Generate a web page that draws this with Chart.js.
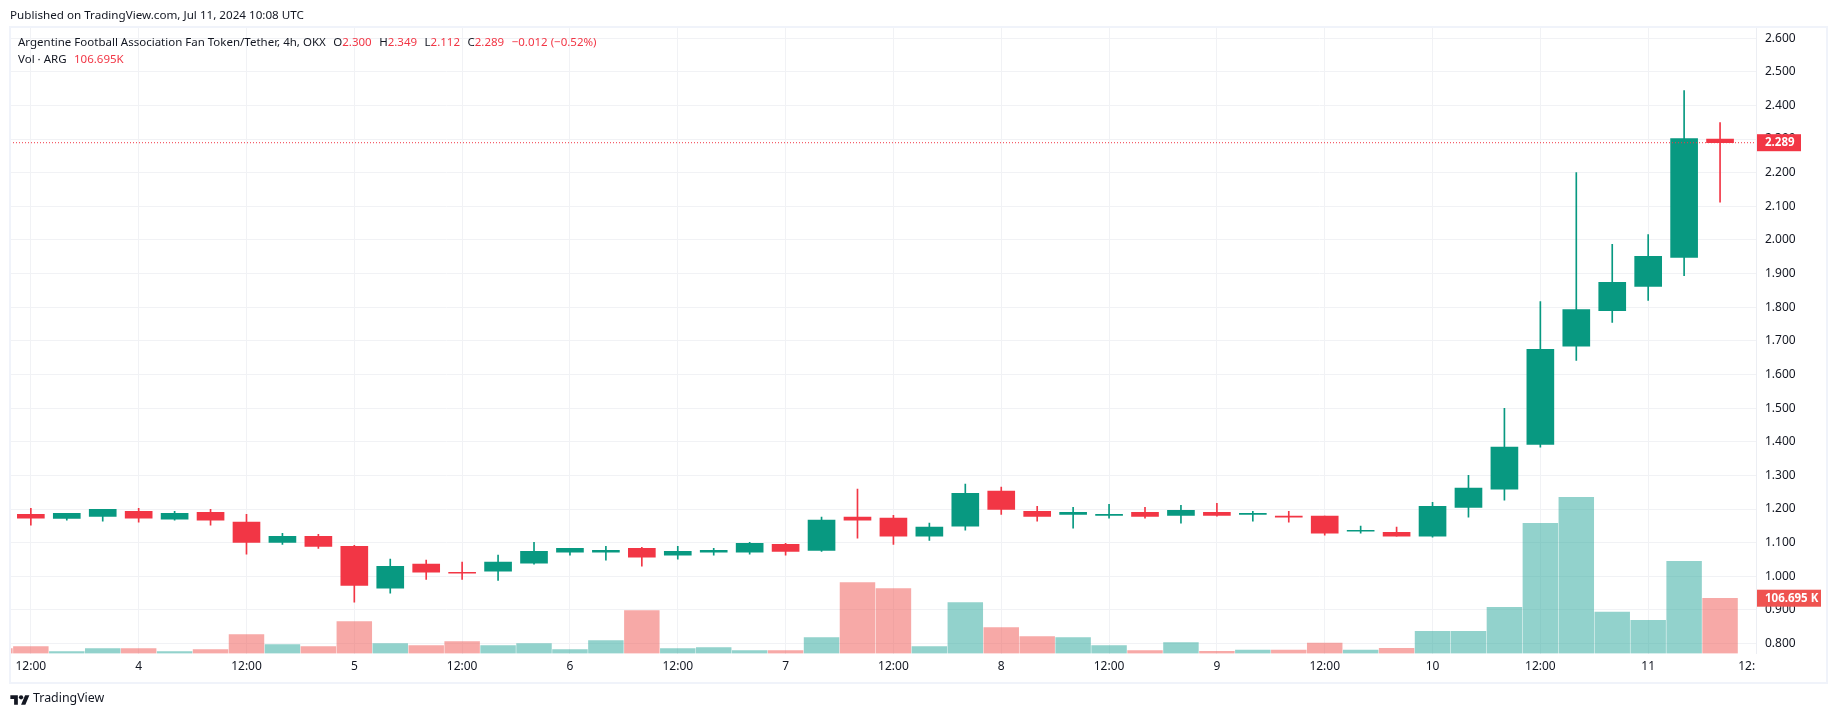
<!DOCTYPE html>
<html>
<head>
<meta charset="utf-8">
<style>
  html, body { margin: 0; padding: 0; background: #fff; }
  #wrap { position: relative; width: 1835px; height: 716px; overflow: hidden; font-family: "Noto Sans", sans-serif; color: #131722; }
  #chart { position: absolute; left: 0; top: 0; }
  #frame { position: absolute; left: 9px; top: 26px; width: 1815px; height: 654px; border: 2px solid #f0f3fa; pointer-events: none; }
  .txt { position: absolute; white-space: pre; font-size: 11.5px; line-height: 16px; }
  .red { color: #f23645; }
  .lbl { margin-left: 7.5px; }
  #logo { position: absolute; left: 10px; top: 693px; width: 20px; height: 15px; }
</style>
</head>
<body>
<div id="wrap">
  <canvas id="chart" width="1835" height="716"></canvas>
  <div id="frame"></div>
  <div class="txt" style="left:10px;top:7px;font-size:11.65px">Published on TradingView.com, Jul 11, 2024 10:08 UTC</div>
  <div class="txt" style="left:18px;top:34px">Argentine Football Association Fan Token/Tether, 4h, OKX<span class="lbl">O</span><span class="red">2.300</span><span class="lbl">H</span><span class="red">2.349</span><span class="lbl">L</span><span class="red">2.112</span><span class="lbl">C</span><span class="red">2.289</span><span class="red lbl">−0.012 (−0.52%)</span></div>
  <div class="txt" style="left:18px;top:51px">Vol · ARG<span class="red lbl">106.695K</span></div>
  <svg id="logo" viewBox="0 0 36 28"><path fill="#131722" d="M14 22H7V11H0V4h14v18zM28 22h-8l7.5-18h8L28 22z"/><circle fill="#131722" cx="20" cy="8" r="4"/></svg>
  <div class="txt" style="left:33px;top:690px;font-size:12.4px">TradingView</div>
</div>
<script src="https://cdn.jsdelivr.net/npm/chart.js@4/dist/chart.umd.min.js"></script>
<script>
"use strict";

// 4h bars, first one is the bar before Jul 3 12:00 (only its volume edge shows)
const opens = [1.190, 1.184, 1.172, 1.178, 1.193, 1.170, 1.190, 1.161, 1.101, 1.119, 1.089, 0.965, 1.036, 1.012, 1.015, 1.039, 1.072, 1.072, 1.083, 1.063, 1.072, 1.072, 1.095, 1.077, 1.176, 1.173, 1.119, 1.149, 1.253, 1.193, 1.184, 1.181, 1.190, 1.181, 1.190, 1.184, 1.179, 1.179, 1.134, 1.131, 1.119, 1.205, 1.259, 1.392, 1.684, 1.790, 1.862, 1.948, 2.300];
const highs = [1.195, 1.202, 1.187, 1.199, 1.202, 1.193, 1.199, 1.184, 1.128, 1.125, 1.092, 1.051, 1.048, 1.042, 1.063, 1.101, 1.083, 1.089, 1.086, 1.089, 1.083, 1.101, 1.098, 1.176, 1.259, 1.181, 1.158, 1.274, 1.265, 1.208, 1.205, 1.214, 1.205, 1.211, 1.217, 1.193, 1.193, 1.179, 1.149, 1.146, 1.220, 1.300, 1.499, 1.817, 2.200, 1.987, 2.016, 2.444, 2.349];
const lows = [1.170, 1.152, 1.167, 1.164, 1.161, 1.167, 1.152, 1.066, 1.095, 1.083, 0.923, 0.950, 0.991, 0.991, 0.988, 1.036, 1.063, 1.048, 1.030, 1.051, 1.063, 1.066, 1.063, 1.074, 1.113, 1.095, 1.107, 1.137, 1.184, 1.164, 1.143, 1.173, 1.173, 1.158, 1.179, 1.164, 1.161, 1.122, 1.128, 1.119, 1.116, 1.176, 1.226, 1.384, 1.642, 1.755, 1.820, 1.894, 2.112];
const closes = [1.184, 1.173, 1.187, 1.199, 1.173, 1.187, 1.167, 1.101, 1.119, 1.089, 0.973, 1.030, 1.012, 1.009, 1.042, 1.074, 1.083, 1.077, 1.057, 1.074, 1.077, 1.098, 1.074, 1.167, 1.167, 1.119, 1.146, 1.247, 1.199, 1.178, 1.190, 1.184, 1.178, 1.196, 1.181, 1.187, 1.176, 1.128, 1.137, 1.119, 1.208, 1.262, 1.384, 1.675, 1.793, 1.874, 1.951, 2.301, 2.289];
const volumes = [9.6, 13.5, 3.9, 9.6, 9.6, 3.9, 7.7, 36.7, 17.4, 13.5, 61.7, 19.3, 15.4, 23.1, 15.4, 19.3, 7.7, 25.1, 82.9, 9.6, 11.6, 5.8, 5.8, 30.9, 137, 125.4, 13.5, 98.4, 50.2, 32.8, 30.9, 15.4, 5.8, 21.2, 4.4, 6.4, 6.4, 19.9, 6.4, 10.2, 43, 43, 89.3, 251.3, 301.5, 79.7, 64.2, 178, 106.695];

const timeTicks = [0, 3, 6, 9, 12, 15, 18, 21, 24, 27, 30, 33, 36, 39, 42, 45, 48];
const timeLabels = ['12:00', '4', '12:00', '5', '12:00', '6', '12:00', '7', '12:00', '8', '12:00', '9', '12:00', '10', '12:00', '11', '12:      '];
const priceTicks = [0.8, 0.9, 1.0, 1.1, 1.2, 1.3, 1.4, 1.5, 1.6, 1.7, 1.8, 1.9, 2.0, 2.1, 2.2, 2.3, 2.4, 2.5, 2.6];

const UP = '#089981';
const DOWN = '#f23645';
const VOL_UP = 'rgba(38,166,154,0.5)';
const VOL_DOWN = 'rgba(239,83,80,0.5)';
const GRID = '#f1f2f5';
const FONT = '"Noto Sans", sans-serif';
const X_MIN = -0.58;
const X_MAX = 48;

const isUp = closes.map((c, i) => c >= opens[i]);
const lastClose = closes[closes.length - 1];
const lastVolume = volumes[volumes.length - 1];

// 軸の右側に出す現在値ラベル
const badges = {
    id: 'badges',
    afterDraw(chart) {
        const c = chart.ctx;
        const draw = (y, left, right, color, text) => {
            c.save();
            c.fillStyle = color;
            c.fillRect(left, y - 8.5, right - left, 17);
            c.fillStyle = '#fff';
            c.font = 'bold 11.5px ' + FONT;
            c.textAlign = 'left';
            c.textBaseline = 'middle';
            c.fillText(text, left + 8, y + 0.5);
            c.restore();
        };
        const area = chart.chartArea;
        draw(chart.scales.y.getPixelForValue(lastClose), area.right + 1, area.right + 45, DOWN, lastClose.toFixed(3));
        draw(chart.scales.vol.getPixelForValue(lastVolume), area.right + 1, area.right + 65, '#ef5350', lastVolume.toFixed(3) + ' K');
    }
};

const chart = new Chart(document.getElementById('chart').getContext('2d'), {
    type: 'bar',
    data: {
        datasets: [
            {
                type: 'line',
                data: [{ x: X_MIN, y: lastClose }, { x: X_MAX, y: lastClose }],
                borderColor: DOWN,
                borderWidth: 1,
                borderDash: [1, 2],
                pointRadius: 0,
                order: 0
            },
            {
                data: opens.map((o, i) => ({ x: i - 1, y: [o, closes[i]] })),
                backgroundColor: isUp.map(u => u ? UP : DOWN),
                barThickness: 27,
                grouped: false,
                order: 1
            },
            {
                data: lows.map((l, i) => ({ x: i - 1, y: [l, highs[i]] })),
                backgroundColor: isUp.map(u => u ? UP : DOWN),
                barThickness: 1,
                grouped: false,
                order: 2
            },
            {
                data: volumes.map((v, i) => ({ x: i - 1, y: v })),
                yAxisID: 'vol',
                backgroundColor: isUp.map(u => u ? VOL_UP : VOL_DOWN),
                barThickness: 34.8,
                grouped: false,
                order: 3
            }
        ]
    },
    options: {
        responsive: false,
        animation: false,
        layout: { padding: { left: 10, top: 28, right: 10, bottom: 35 } },
        plugins: { legend: { display: false }, tooltip: { enabled: false } },
        scales: {
            x: {
                type: 'linear',
                offset: false,
                min: X_MIN,
                max: X_MAX,
                afterBuildTicks: axis => { axis.ticks = timeTicks.map(v => ({ value: v })); },
                afterFit: axis => { axis.height = 27.5; },
                ticks: {
                    autoSkip: false,
                    maxRotation: 0,
                    padding: 6,
                    color: '#131722',
                    font: { family: FONT, size: 12 },
                    callback: (v, i) => timeLabels[i]
                },
                grid: { color: GRID, drawTicks: false, offset: false },
                border: { display: false }
            },
            y: {
                position: 'right',
                min: 0.7705,
                max: 2.63,
                afterBuildTicks: axis => { axis.ticks = priceTicks.map(v => ({ value: v })); },
                afterFit: axis => { axis.width = 69; },
                ticks: {
                    padding: 9,
                    color: '#131722',
                    font: { family: FONT, size: 12 },
                    callback: v => v.toFixed(3)
                },
                grid: { color: GRID, drawTicks: false },
                border: { color: '#eceef3' }
            },
            vol: {
                display: false,
                min: 0,
                max: 1207
            }
        }
    },
    plugins: [badges]
});
</script>
</body>
</html>
